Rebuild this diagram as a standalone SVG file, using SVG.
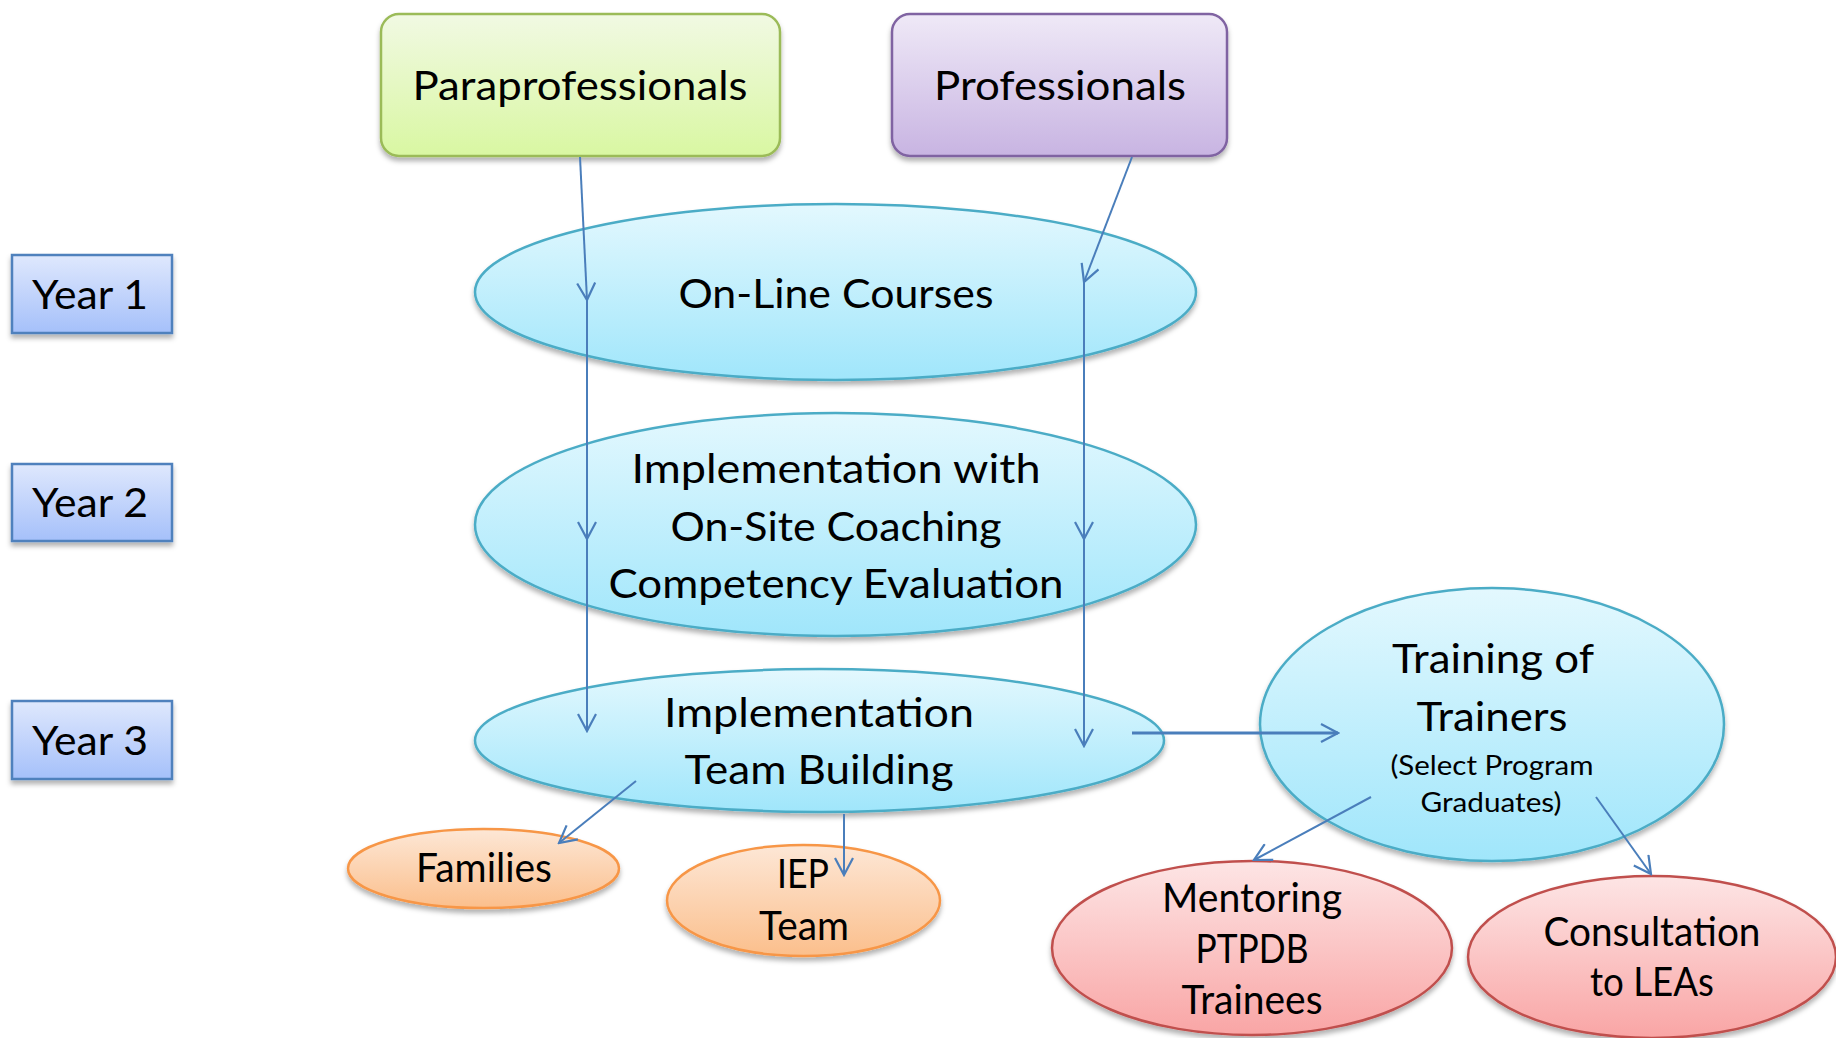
<svg xmlns="http://www.w3.org/2000/svg" width="1836" height="1038" viewBox="0 0 1836 1038">
<defs>
<style>
text{font-family:Lato,"Open Sans","DejaVu Sans",sans-serif;fill:#000;text-anchor:middle}
.big{font-size:41px}
.small{font-size:27px}
.sh{filter:url(#shadow)}
.conn line{stroke:#4a7ebb;stroke-width:2;fill:none;marker-end:url(#arr)}
</style>
<filter id="shadow" x="-10%" y="-10%" width="120%" height="130%">
<feDropShadow dx="0" dy="4" stdDeviation="2.5" flood-color="#000" flood-opacity="0.3"/>
</filter>
<marker id="arr" markerUnits="userSpaceOnUse" viewBox="0 0 20 20" refX="18" refY="10" markerWidth="20" markerHeight="20" orient="auto">
<path d="M1,1 L18,10 L1,19" fill="none" stroke="#4a7ebb" stroke-width="2.2"/>
</marker>
<linearGradient id="gGreen" x1="0" y1="0" x2="0" y2="1"><stop offset="0" stop-color="#f1f9e3"/><stop offset="1" stop-color="#d9f7a2"/></linearGradient>
<linearGradient id="gPurple" x1="0" y1="0" x2="0" y2="1"><stop offset="0" stop-color="#efe9f7"/><stop offset="1" stop-color="#c8b4e2"/></linearGradient>
<linearGradient id="gYear" x1="0" y1="0" x2="0" y2="1"><stop offset="0" stop-color="#dfe8fd"/><stop offset="1" stop-color="#a5c0fa"/></linearGradient>
<linearGradient id="gBlue" x1="0" y1="0" x2="0" y2="1"><stop offset="0" stop-color="#e3f8fe"/><stop offset="1" stop-color="#a0e6fb"/></linearGradient>
<linearGradient id="gOrange" x1="0" y1="0" x2="0" y2="1"><stop offset="0" stop-color="#fde7d6"/><stop offset="1" stop-color="#fbbf8c"/></linearGradient>
<linearGradient id="gRed" x1="0" y1="0" x2="0" y2="1"><stop offset="0" stop-color="#fde5e5"/><stop offset="1" stop-color="#f9a5a5"/></linearGradient>
</defs>
<rect width="1836" height="1038" fill="#fff"/>

<g id="paraprofessionals">
<rect class="sh" x="381" y="14" width="399" height="142" rx="18" fill="url(#gGreen)" stroke="#9bbb59" stroke-width="2.5"/>
<text class="big" x="580" y="100" textLength="335" lengthAdjust="spacingAndGlyphs">Paraprofessionals</text>
</g>
<g id="professionals">
<rect class="sh" x="892" y="14" width="335" height="142" rx="18" fill="url(#gPurple)" stroke="#8064a2" stroke-width="2.5"/>
<text class="big" x="1060" y="100" textLength="252" lengthAdjust="spacingAndGlyphs">Professionals</text>
</g>

<g id="year1">
<rect class="sh" x="12" y="255" width="160" height="78" fill="url(#gYear)" stroke="#4f81bd" stroke-width="2.5"/>
<text class="big" x="90" y="309" textLength="116" lengthAdjust="spacingAndGlyphs">Year 1</text>
</g>
<g id="year2">
<rect class="sh" x="12" y="464" width="160" height="77" fill="url(#gYear)" stroke="#4f81bd" stroke-width="2.5"/>
<text class="big" x="90" y="517" textLength="116" lengthAdjust="spacingAndGlyphs">Year 2</text>
</g>
<g id="year3">
<rect class="sh" x="12" y="701" width="160" height="78" fill="url(#gYear)" stroke="#4f81bd" stroke-width="2.5"/>
<text class="big" x="90" y="755" textLength="116" lengthAdjust="spacingAndGlyphs">Year 3</text>
</g>

<g id="online-courses">
<ellipse class="sh" cx="835.5" cy="292" rx="360.5" ry="88" fill="url(#gBlue)" stroke="#4bacc6" stroke-width="2.5"/>
<text class="big" x="836" y="308" textLength="315" lengthAdjust="spacingAndGlyphs">On-Line Courses</text>
</g>
<g id="implementation-coaching">
<ellipse class="sh" cx="835.5" cy="524.5" rx="360.5" ry="111.5" fill="url(#gBlue)" stroke="#4bacc6" stroke-width="2.5"/>
<text class="big" x="836" y="483" textLength="409" lengthAdjust="spacingAndGlyphs">Implementation with</text>
<text class="big" x="836" y="541" textLength="331" lengthAdjust="spacingAndGlyphs">On-Site Coaching</text>
<text class="big" x="836" y="598" textLength="455" lengthAdjust="spacingAndGlyphs">Competency Evaluation</text>
</g>
<g id="implementation-team">
<ellipse class="sh" cx="819.5" cy="740.5" rx="344.5" ry="71.5" fill="url(#gBlue)" stroke="#4bacc6" stroke-width="2.5"/>
<text class="big" x="819" y="727" textLength="310" lengthAdjust="spacingAndGlyphs">Implementation</text>
<text class="big" x="819" y="784" textLength="269" lengthAdjust="spacingAndGlyphs">Team Building</text>
</g>
<g id="training-of-trainers">
<ellipse class="sh" cx="1492" cy="724.5" rx="232" ry="136.5" fill="url(#gBlue)" stroke="#4bacc6" stroke-width="2.5"/>
<text class="big" x="1493" y="673" textLength="202" lengthAdjust="spacingAndGlyphs">Training of</text>
<text class="big" x="1492" y="731" textLength="151" lengthAdjust="spacingAndGlyphs">Trainers</text>
<text class="small" x="1492" y="775" textLength="203" lengthAdjust="spacingAndGlyphs">(Select Program</text>
<text class="small" x="1491" y="812" textLength="141" lengthAdjust="spacingAndGlyphs">Graduates)</text>
</g>

<g id="families">
<ellipse class="sh" cx="483.5" cy="868.5" rx="135.5" ry="39.5" fill="url(#gOrange)" stroke="#f79646" stroke-width="2.5"/>
<text class="big" x="484" y="882" textLength="136" lengthAdjust="spacingAndGlyphs">Families</text>
</g>
<g id="iep-team">
<ellipse class="sh" cx="803.5" cy="900.5" rx="136.5" ry="55.5" fill="url(#gOrange)" stroke="#f79646" stroke-width="2.5"/>
<text class="big" x="803" y="888" textLength="52" lengthAdjust="spacingAndGlyphs">IEP</text>
<text class="big" x="804" y="940" textLength="90" lengthAdjust="spacingAndGlyphs">Team</text>
</g>
<g id="mentoring">
<ellipse class="sh" cx="1252" cy="948" rx="200" ry="87" fill="url(#gRed)" stroke="#c0504d" stroke-width="2.5"/>
<text class="big" x="1252" y="912" textLength="180" lengthAdjust="spacingAndGlyphs">Mentoring</text>
<text class="big" x="1252" y="963" textLength="113" lengthAdjust="spacingAndGlyphs">PTPDB</text>
<text class="big" x="1252" y="1014" textLength="141" lengthAdjust="spacingAndGlyphs">Trainees</text>
</g>
<g id="consultation">
<ellipse class="sh" cx="1652" cy="957" rx="184" ry="81" fill="url(#gRed)" stroke="#c0504d" stroke-width="2.5"/>
<text class="big" x="1652" y="946" textLength="217" lengthAdjust="spacingAndGlyphs">Consultation</text>
<text class="big" x="1652" y="996" textLength="124" lengthAdjust="spacingAndGlyphs">to LEAs</text>
</g>

<g id="connectors" class="conn">
<line x1="580" y1="157" x2="587" y2="300"/>
<line x1="587" y1="300" x2="587" y2="539"/>
<line x1="587" y1="539" x2="587" y2="731"/>
<line x1="1132" y1="157" x2="1084" y2="282"/>
<line x1="1084" y1="282" x2="1084" y2="539"/>
<line x1="1084" y1="539" x2="1084" y2="746"/>
<line x1="1132" y1="733" x2="1338" y2="733" style="stroke-width:3"/>
<line x1="636" y1="781" x2="559" y2="843"/>
<line x1="844" y1="814" x2="844" y2="875"/>
<line x1="1371" y1="797" x2="1254" y2="860"/>
<line x1="1596" y1="797" x2="1651" y2="874"/>
</g>
</svg>
